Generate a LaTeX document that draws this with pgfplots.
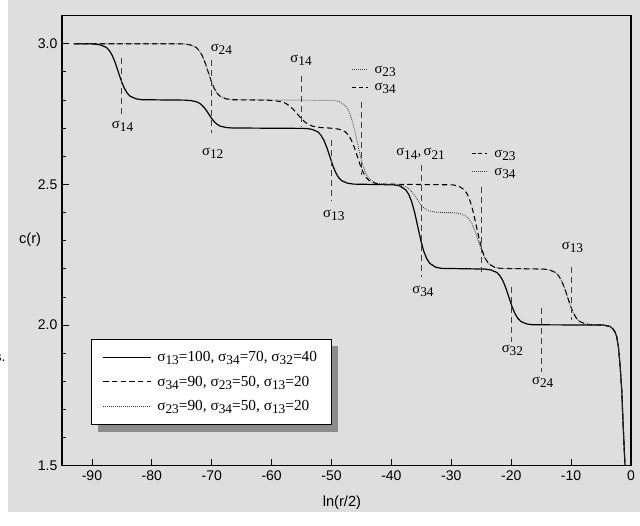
\documentclass[border=0pt]{standalone}
\usepackage{fontspec}
\setmainfont{Liberation Sans}
\newfontfamily\serif{Liberation Serif}
\usepackage{pgfplots}
\pgfplotsset{compat=1.18}
\definecolor{bg}{RGB}{222,222,222}
\newcommand{\sg}[1]{σ\raisebox{-0.45ex}{\fontsize{10}{10}\selectfont #1}}
\tikzset{
  annot/.style={black!75, line width=0.7pt, dash pattern=on 4.5pt off 3pt},
  lab/.style={font=\serif\fontsize{11}{13}\selectfont},
  dotl/.style={black!75, line width=0.7pt, dash pattern=on 0.6pt off 0.9pt},
  dashl/.style={black, line width=0.8pt, dash pattern=on 4pt off 2.5pt},
}

\begin{document}
\begin{tikzpicture}
\path[use as bounding box] (-46.5pt,-44.5pt) rectangle (433.5pt,349.3pt);
\fill[bg] (-40.5pt,-34.7pt) rectangle (433.5pt,349.3pt);
\node[anchor=east, font=\fontsize{10.5}{12}\selectfont] at (-38.8pt,80.8pt) {s.};
\begin{axis}[
  at={(0pt,0pt)}, anchor=south west,
  scale only axis, width=426.75pt, height=337.6pt,
  xmin=-95, xmax=0, ymin=1.5, ymax=3.1,
  xtick={-90,-80,...,0},
  ytick={1.5,2.0,2.5,3.0},
  minor y tick num=4,
  tick pos=left, tick align=inside,
  major tick length=5pt, minor tick length=3pt,
  tick style={black, line width=0.6pt},
  axis line style={line width=0.8pt},
  yticklabel style={/pgf/number format/.cd, fixed, fixed zerofill, precision=1},
  /pgf/number format/assume math mode=true,
  ticklabel style={font=\fontsize{10.5}{12}\selectfont},
  xlabel={ln(r/2)}, ylabel={c(r)},
  label style={font=\fontsize{11}{13}\selectfont},
  xlabel style={at={(axis description cs:0.492,-0.083)}, anchor=center},
  ylabel style={at={(axis description cs:-0.056,0.502)}, rotate=-90, anchor=center},
  legend style={name=leg, at={(0.051,0.2816)}, anchor=north west, draw=black, fill=white,
    line width=0.6pt, font=\serif\fontsize{11.5}{13}\selectfont,
    cells={anchor=west}, row sep=5.2pt, inner xsep=8.5pt, inner ysep=7pt},
  legend image code/.code={\draw[#1] (0pt,0pt) -- (36pt,0pt);},
]
% sigma13=100, sigma34=70, sigma32=40
\addplot[black, line width=0.9pt] coordinates {
 (-93,3.0) (-90.5,3.0) (-89.6,2.999) (-88.6,2.996) (-87.6,2.987) (-87.1,2.976) (-86.6,2.958)
 (-86.1,2.932) (-85.6,2.900) (-85.1,2.868) (-84.6,2.842) (-84.1,2.824) (-83.6,2.813)
 (-82.6,2.804) (-81.6,2.801)
 (-74.5,2.7995) (-73.5,2.798) (-72.5,2.7935) (-72.0,2.788) (-71.5,2.779) (-71.0,2.766)
 (-70.5,2.750) (-70.0,2.734) (-69.5,2.721) (-69.0,2.712) (-68.5,2.7065) (-67.5,2.702) (-66.5,2.7005)
 (-54.3,2.699) (-53.3,2.696) (-52.3,2.687) (-51.8,2.676) (-51.3,2.658) (-50.8,2.632)
 (-50.3,2.600) (-49.8,2.568) (-49.3,2.542) (-48.8,2.524) (-48.3,2.513) (-47.3,2.504) (-46.3,2.501)
 (-39.6,2.4985) (-38.6,2.4946) (-37.6,2.4805) (-37.1,2.4643) (-36.6,2.4373) (-36.1,2.3983)
 (-35.6,2.35) (-35.1,2.3017) (-34.6,2.2627) (-34.1,2.2357) (-33.6,2.2195) (-32.6,2.2054) (-31.6,2.2015)
 (-24.4,2.199) (-23.4,2.196) (-22.4,2.187) (-21.9,2.176) (-21.4,2.158) (-20.9,2.132)
 (-20.4,2.100) (-19.9,2.068) (-19.4,2.042) (-18.9,2.024) (-18.4,2.013) (-17.4,2.004) (-16.4,2.001)
 (-4.6,2.0) (-3.5,1.995) (-3.0,1.986) (-2.66,1.975) (-2.4,1.96) (-2.1,1.923) (-1.8,1.85)
 (-1.55,1.77) (-1.3,1.64) (-1.0,1.50) (-0.8,1.40)
};
\addlegendentry{\hspace{2pt}\sg{13}=100, \sg{34}=70, \sg{32}=40\hspace{7pt}}
% sigma34=90, sigma23=50, sigma13=20
\addplot[dashl] coordinates {
 (-93,3.0) (-75.5,3.0) (-74.6,2.999) (-73.6,2.996) (-72.6,2.987) (-72.1,2.976) (-71.6,2.958)
 (-71.1,2.932) (-70.6,2.900) (-70.1,2.868) (-69.6,2.842) (-69.1,2.824) (-68.6,2.813)
 (-67.6,2.804) (-66.6,2.801)
 (-60.9,2.7995) (-59.6,2.798) (-58.3,2.7935) (-57.65,2.788) (-57.0,2.779) (-56.35,2.766)
 (-55.7,2.750) (-55.05,2.734) (-54.4,2.721) (-53.75,2.712) (-53.1,2.7065) (-51.8,2.702) (-50.5,2.7005)
 (-49.7,2.699) (-48.7,2.696) (-47.7,2.687) (-47.2,2.676) (-46.7,2.658) (-46.2,2.632)
 (-45.7,2.600) (-45.2,2.568) (-44.7,2.542) (-44.2,2.524) (-43.7,2.513) (-42.7,2.504) (-41.7,2.501)
 (-29.8,2.4985) (-28.8,2.4946) (-27.8,2.4805) (-27.3,2.4643) (-26.8,2.4373) (-26.3,2.3983)
 (-25.8,2.35) (-25.3,2.3017) (-24.8,2.2627) (-24.3,2.2357) (-23.8,2.2195) (-22.8,2.2054) (-21.8,2.2015)
 (-14.6,2.199) (-13.6,2.196) (-12.6,2.187) (-12.1,2.176) (-11.6,2.158) (-11.1,2.132)
 (-10.6,2.100) (-10.1,2.068) (-9.6,2.042) (-9.1,2.024) (-8.6,2.013) (-7.6,2.004) (-6.6,2.001)
 (-4.6,2.0) (-3.5,1.995) (-3.0,1.986) (-2.66,1.975) (-2.4,1.96) (-2.1,1.923) (-1.8,1.85)
 (-1.55,1.77) (-1.3,1.64) (-1.0,1.50) (-0.8,1.40)
};
\addlegendentry{\hspace{2pt}\sg{34}=90, \sg{23}=50, \sg{13}=20}
% sigma23=90, sigma34=50, sigma13=20
\addplot[dotl] coordinates {
 (-93,3.0) (-75.5,3.0) (-74.6,2.999) (-73.6,2.996) (-72.6,2.987) (-72.1,2.976) (-71.6,2.958)
 (-71.1,2.932) (-70.6,2.900) (-70.1,2.868) (-69.6,2.842) (-69.1,2.824) (-68.6,2.813)
 (-67.6,2.804) (-66.6,2.801)
 (-49.7,2.7985) (-48.7,2.7946) (-47.7,2.7805) (-47.2,2.7643) (-46.7,2.7373) (-46.2,2.6983)
 (-45.7,2.65) (-45.2,2.6017) (-44.7,2.5627) (-44.2,2.5357) (-43.7,2.5195) (-42.7,2.5054) (-41.7,2.5015)
 (-39.8,2.4995) (-38.8,2.498) (-37.8,2.4935) (-37.3,2.488) (-36.8,2.479) (-36.3,2.466)
 (-35.8,2.450) (-35.3,2.434) (-34.8,2.421) (-34.3,2.412) (-33.8,2.4065) (-32.8,2.402) (-31.8,2.4005)
 (-29.5,2.399) (-28.5,2.396) (-27.5,2.387) (-27.0,2.376) (-26.5,2.358) (-26.0,2.332)
 (-25.5,2.300) (-25.0,2.268) (-24.5,2.242) (-24.0,2.224) (-23.5,2.213) (-22.5,2.204) (-21.5,2.201)
 (-14.6,2.199) (-13.6,2.196) (-12.6,2.187) (-12.1,2.176) (-11.6,2.158) (-11.1,2.132)
 (-10.6,2.100) (-10.1,2.068) (-9.6,2.042) (-9.1,2.024) (-8.6,2.013) (-7.6,2.004) (-6.6,2.001)
 (-4.6,2.0) (-3.5,1.995) (-3.0,1.986) (-2.66,1.975) (-2.4,1.96) (-2.1,1.923) (-1.8,1.85)
 (-1.55,1.77) (-1.3,1.64) (-1.0,1.50) (-0.8,1.40)
};
\addlegendentry{\hspace{2pt}\sg{23}=90, \sg{34}=50, \sg{13}=20}

% annotation lines
\draw[annot] (axis cs:-85,2.95) -- (axis cs:-85,2.74);
\draw[annot] (axis cs:-70,2.943) -- (axis cs:-70,2.683);
\draw[annot] (axis cs:-55,2.887) -- (axis cs:-55,2.706);
\draw[annot] (axis cs:-50,2.657) -- (axis cs:-50,2.443);
\draw[annot] (axis cs:-45,2.793) -- (axis cs:-45,2.532);
\draw[annot] (axis cs:-35,2.568) -- (axis cs:-35,2.171);
\draw[annot] (axis cs:-25,2.491) -- (axis cs:-25,2.19);
\draw[annot] (axis cs:-10,2.207) -- (axis cs:-10,2.017);
\draw[annot] (axis cs:-20,2.136) -- (axis cs:-20,1.94);
\draw[annot] (axis cs:-15,2.059) -- (axis cs:-15,1.834);

% annotation labels
\node[lab] at (axis cs:-84.88,2.705) {\sg{14}};
\node[lab] at (axis cs:-68.38,2.980) {\sg{24}};
\node[lab] at (axis cs:-69.83,2.610) {\sg{12}};
\node[lab] at (axis cs:-55.08,2.941) {\sg{14}};
\node[lab] at (axis cs:-49.62,2.389) {\sg{13}};
\node[lab] at (axis cs:-35.13,2.609) {\sg{14},\,\sg{21}};
\node[lab] at (axis cs:-34.72,2.120) {\sg{34}};
\node[lab] at (axis cs:-19.80,1.911) {\sg{32}};
\node[lab] at (axis cs:-14.73,1.798) {\sg{24}};
\node[lab] at (axis cs:-9.77,2.275) {\sg{13}};

\draw[dotl] (axis cs:-46.5,2.908) -- (axis cs:-43.9,2.908);
\node[lab, anchor=west] at (axis cs:-43.6,2.902) {\sg{23}};
\draw[black, line width=0.8pt, dash pattern=on 3pt off 2pt] (axis cs:-46.5,2.846) -- (axis cs:-43.9,2.846);
\node[lab, anchor=west] at (axis cs:-43.6,2.840) {\sg{34}};

\draw[black, line width=0.8pt, dash pattern=on 3pt off 2pt] (axis cs:-26.6,2.611) -- (axis cs:-24.0,2.611);
\node[lab, anchor=west] at (axis cs:-23.6,2.605) {\sg{23}};
\draw[dotl] (axis cs:-26.6,2.546) -- (axis cs:-24.0,2.546);
\node[lab, anchor=west] at (axis cs:-23.6,2.540) {\sg{34}};
\end{axis}
% legend shadow (outside the box only)
\fill[black!45] ([xshift=0.3pt,yshift=-5pt]leg.north east) rectangle ([xshift=5pt,yshift=-5pt]leg.south east);
\fill[black!45] ([xshift=5pt,yshift=-0.3pt]leg.south west) rectangle ([xshift=5pt,yshift=-5pt]leg.south east);
\end{tikzpicture}
\end{document}
